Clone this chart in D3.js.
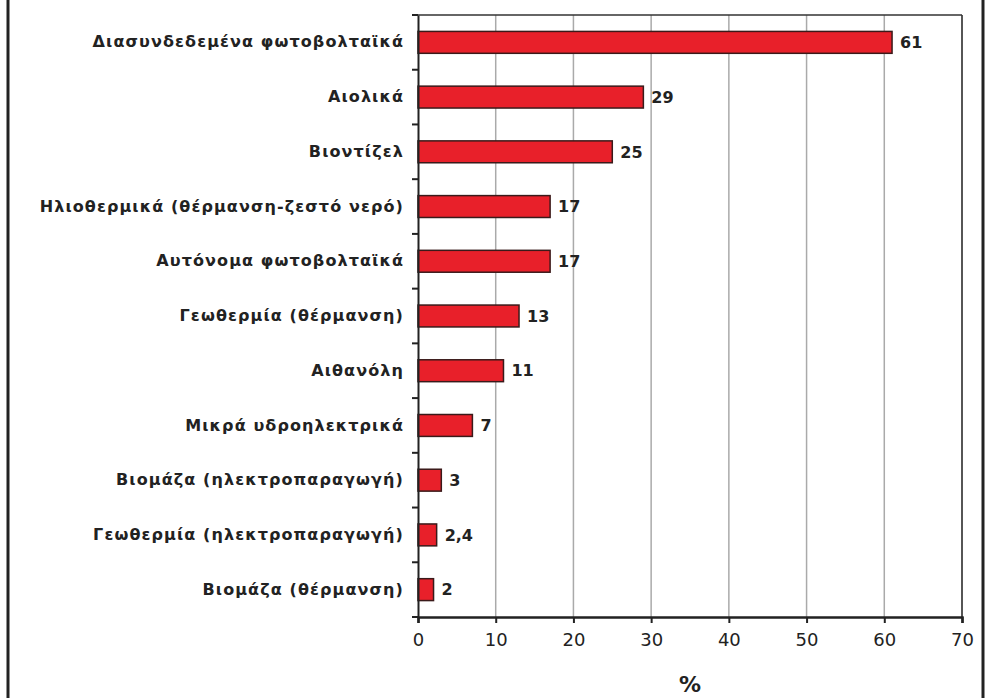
<!DOCTYPE html>
<html><head><meta charset="utf-8">
<script src="https://cdn.jsdelivr.net/npm/d3@7"></script>
<style>body{margin:0;background:#fff}svg{display:block}</style>
</head><body>
<svg id="c" width="990" height="698"></svg>
<script>
const categories = ["Διασυνδεδεμένα φωτοβολταϊκά","Αιολικά","Βιοντίζελ","Ηλιοθερμικά (θέρμανση-ζεστό νερό)","Αυτόνομα φωτοβολταϊκά","Γεωθερμία (θέρμανση)","Αιθανόλη","Μικρά υδροηλεκτρικά","Βιομάζα (ηλεκτροπαραγωγή)","Γεωθερμία (ηλεκτροπαραγωγή)","Βιομάζα (θέρμανση)"];
const values = [61,29,25,17,17,13,11,7,3,2.4,2];
const valueLabels = ["61","29","25","17","17","13","11","7","3","2,4","2"];
const xTicks = [0,10,20,30,40,50,60,70];
const xTitle = "%";

const svg = d3.select("#c");
const m = {left:418, right:962, top:15, bottom:617};
const x = d3.scaleLinear().domain([0,70]).range([m.left,m.right]);
const y = d3.scaleBand().domain(categories).range([m.top,m.bottom]).paddingInner(0.6).paddingOuter(0.3);
const yb = d3.scaleBand().domain(categories).range([m.top,m.bottom]);

// frame lines
svg.append("line").attr("x1",8).attr("x2",8).attr("y1",0).attr("y2",698).attr("stroke","#222").attr("stroke-width",3);
svg.append("line").attr("x1",983).attr("x2",983).attr("y1",0).attr("y2",698).attr("stroke","#222").attr("stroke-width",3);

// gridlines
svg.append("g").selectAll("line").data(xTicks.filter(d=>d>0)).join("line")
  .attr("x1",d=>x(d)).attr("x2",d=>x(d)).attr("y1",m.top).attr("y2",m.bottom)
  .attr("stroke","#aaa").attr("stroke-width",1.5);
svg.append("line").attr("x1",m.left).attr("x2",m.right).attr("y1",m.top).attr("y2",m.top).attr("stroke","#333").attr("stroke-width",1.5);
svg.append("line").attr("x1",m.right).attr("x2",m.right).attr("y1",m.top).attr("y2",m.bottom).attr("stroke","#333").attr("stroke-width",1.5);

// bars
svg.append("g").selectAll("rect").data(values).join("rect")
  .attr("x",x(0)).attr("y",(d,i)=>y(categories[i]))
  .attr("width",d=>x(d)-x(0)).attr("height",y.bandwidth())
  .attr("fill","#e8202a").attr("stroke","#3a1a1a").attr("stroke-width",1.5);

// value labels
svg.append("g").selectAll("text").data(values).join("text")
  .attr("x",d=>x(d)+8).attr("y",(d,i)=>y(categories[i])+y.bandwidth()/2)
  .attr("dy","0.36em").attr("font-family","DejaVu Sans").attr("font-weight","bold")
  .attr("font-size",16).attr("fill","#222").text((d,i)=>valueLabels[i]);

// y axis
const ya = svg.append("g").attr("transform",`translate(${m.left},0)`)
  .call(d3.axisLeft(yb).tickSize(0).tickPadding(14));
ya.select(".domain").attr("stroke","#222").attr("stroke-width",2);
ya.selectAll("text").attr("font-family","DejaVu Sans").attr("font-weight","bold").attr("font-size",16)
  .attr("letter-spacing","1.1px").attr("fill","#222");
svg.append("g").selectAll("line").data(d3.range(categories.length+1)).join("line")
  .attr("x1",m.left-6).attr("x2",m.left).attr("y1",i=>m.top+i*yb.step()).attr("y2",i=>m.top+i*yb.step())
  .attr("stroke","#222").attr("stroke-width",2);

// x axis
const xa = svg.append("g").attr("transform",`translate(0,${m.bottom})`)
  .call(d3.axisBottom(x).tickValues(xTicks).tickSize(6).tickPadding(10).tickFormat(d3.format("d")));
xa.select(".domain").attr("stroke","#222").attr("stroke-width",2.5);
xa.selectAll(".tick line").attr("stroke","#222").attr("stroke-width",2);
xa.selectAll("text").attr("font-family","DejaVu Sans").attr("font-size",18).attr("fill","#222");

svg.append("text").attr("x",(m.left+m.right)/2).attr("y",692).attr("text-anchor","middle")
  .attr("font-family","DejaVu Sans").attr("font-weight","bold").attr("font-size",22).attr("fill","#222").text(xTitle);
</script>
</body></html>
